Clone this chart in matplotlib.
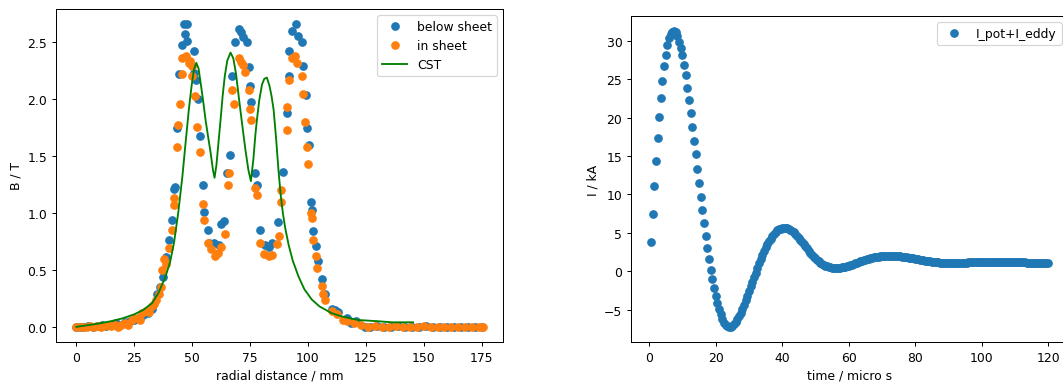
import numpy as np
import matplotlib
matplotlib.use("Agg")
import matplotlib.pyplot as plt

# ---------------- left panel data ----------------
x_below = [0, 1.5, 3, 5, 7, 9, 11, 13, 15, 17, 19, 21, 23, 25, 27, 29, 31,
           32.8, 34.9, 36.2, 37.6, 38.9, 40.0, 41.5, 42.2, 42.5, 43.6, 44.3,
           45.5, 46.3, 47.8, 47.0, 48.0, 50.8, 50.8, 51.5, 52.6, 53.2, 54.7,
           55.1, 56.8, 57.5, 59.6, 61.8, 62.5, 63.7, 65.1, 66.3, 67.3, 68.7,
           70.1, 71.3, 72.2, 73.7, 74.7, 75.2, 75.6, 77.3, 78.0, 79.5, 81.6,
           83.0, 84.5, 87.1, 89.1, 91.0, 91.7, 92.0, 93.0, 94.7, 95.8, 97.4,
           98.1, 99.1, 99.5, 100.6, 101.3, 101.7, 102.4, 103.4, 104.2, 106.0,
           107.4, 110.5, 111.7, 113.0, 117.0, 118.8, 121.0, 124.5, 127, 130,
           133, 136, 139, 142, 145, 148, 151, 154, 157, 160, 163, 166, 169,
           172, 175]
B_below = [0.0, 0.0, 0.0, 0.01, 0.0, 0.01, 0.02, 0.01, 0.02, 0.03, 0.02, 0.04,
           0.05, 0.06, 0.08, 0.10, 0.12, 0.16, 0.29, 0.35, 0.44, 0.61, 0.76,
           0.94, 1.21, 1.23, 1.75, 2.22, 2.48, 2.66, 2.66, 2.57, 2.51, 2.42,
           2.23, 2.17, 2.00, 1.68, 1.25, 1.01, 0.85, 0.74, 0.74, 0.72, 0.90,
           0.93, 1.35, 1.51, 2.20, 2.50, 2.62, 2.59, 2.55, 2.50, 2.28, 2.12,
           1.98, 1.35, 1.25, 0.85, 0.72, 0.70, 0.74, 0.92, 1.36, 1.88, 2.20,
           2.42, 2.60, 2.66, 2.56, 2.50, 2.29, 2.04, 1.75, 1.60, 1.10, 1.03,
           0.84, 0.71, 0.58, 0.42, 0.29, 0.16, 0.15, 0.13, 0.08, 0.03, 0.055,
           0.0, 0.0, 0.01, 0.0, 0.0, 0.01, 0.0, 0.0, 0.0, 0.01, 0.0, 0.0, 0.0,
           0.0, 0.0, 0.0, 0.0, 0.0]

x_in = [0, 1.5, 3, 4.5, 6, 7.5, 9, 10.5, 12, 13.5, 15, 16.5, 18, 19.5, 21,
        22.5, 24, 25.5, 27.3, 28.5, 30, 31.3, 32.5, 33.5, 34.5, 35.6, 36.5,
        37.0, 38.0, 38.8, 40.0, 41.2, 42.2, 42.3, 43.6, 44.1, 44.6, 45.5,
        45.8, 47.2, 48.6, 49.2, 50.0, 50.0, 51.2, 52.3, 53.2, 54.7, 55.1,
        57.0, 58.0, 59.8, 61.2, 62.6, 64.0, 65.5, 66.1, 67.3, 68.0, 70.1,
        71.3, 72.2, 72.9, 74.4, 75.2, 75.6, 77.3, 78.0, 79.5, 81.0, 83.0,
        84.5, 86.5, 87.5, 88.2, 88.4, 91.0, 91.0, 91.7, 93.0, 94.4, 95.5,
        97.3, 98.1, 98.8, 99.5, 100.0, 101.4, 101.7, 102.4, 103.4, 103.8,
        106.0, 106.7, 107.4, 110.3, 112.4, 115, 117, 120, 123, 126, 129, 132,
        135, 138, 141, 144, 147, 150, 153, 156, 159, 162, 165, 168, 171, 174,
        175.5]
B_in = [0.0, 0.0, 0.0, 0.0, 0.01, 0.0, 0.01, 0.0, 0.01, 0.02, 0.01, 0.02, 0.0,
        0.02, 0.03, 0.02, 0.06, 0.08, 0.06, 0.12, 0.14, 0.13, 0.18, 0.20,
        0.24, 0.29, 0.35, 0.50, 0.60, 0.55, 0.69, 0.85, 1.07, 1.13, 1.58,
        1.77, 1.96, 2.22, 2.36, 2.38, 2.32, 2.34, 2.29, 2.20, 2.03, 1.76,
        1.54, 1.08, 0.94, 0.74, 0.68, 0.62, 0.65, 0.70, 0.82, 1.25, 1.35,
        2.08, 1.96, 2.36, 2.33, 2.30, 2.24, 2.08, 1.91, 1.82, 1.22, 1.16,
        0.74, 0.64, 0.62, 0.63, 0.73, 0.80, 1.10, 1.20, 1.93, 1.73, 2.17,
        2.36, 2.38, 2.32, 2.20, 2.05, 1.80, 1.58, 1.43, 1.00, 0.96, 0.76,
        0.62, 0.52, 0.36, 0.29, 0.24, 0.14, 0.11, 0.06, 0.05, 0.03, 0.02,
        0.0, 0.01, 0.0, 0.0, 0.01, 0.0, 0.0, 0.0, 0.01, 0.0, 0.0, 0.0, 0.0,
        0.0, 0.0, 0.0, 0.0, 0.0]

x_cst = [0, 5, 10, 15, 20, 25, 29, 32.8, 35.5, 38.5, 40.5, 42.2, 44.0, 45.8,
         47.2, 48.6, 49.8, 50.8, 51.8, 52.8, 54.0, 55.0, 55.8, 57.0, 58.0,
         59.0, 59.7, 60.5, 61.4, 62.3, 63.2, 64.1, 65.2, 66.6, 67.8, 69.0,
         70.1, 71.5, 73.0, 74.3, 75.4, 76.5, 77.3, 78.0, 79.0, 80.2, 81.2,
         82.3, 83.4, 84.3, 85.2, 86.3, 87.3, 88.2, 89.2, 90.2, 91.7, 93.5,
         96.0, 98.5, 101.7, 105, 110.3, 115, 121.8, 130, 136.2, 145.4]
B_cst = [0.0, 0.015, 0.03, 0.05, 0.075, 0.11, 0.15, 0.21, 0.30, 0.44, 0.57,
         0.74, 1.00, 1.32, 1.62, 1.91, 2.12, 2.26, 2.32, 2.27, 2.10, 1.95,
         1.82, 1.66, 1.53, 1.38, 1.31, 1.42, 1.62, 1.82, 2.03, 2.20, 2.34,
         2.41, 2.36, 2.22, 2.03, 1.80, 1.56, 1.38, 1.28, 1.48, 1.68, 1.82,
         1.99, 2.13, 2.18, 2.19, 2.12, 2.03, 1.91, 1.65, 1.38, 1.17, 1.00,
         0.87, 0.72, 0.58, 0.44, 0.33, 0.24, 0.18, 0.12, 0.09, 0.06, 0.05,
         0.04, 0.04]

# ---------------- right panel data ----------------
I_total = [3.8, 7.5, 11.1, 14.4, 17.4, 20.1, 22.6, 24.8, 26.7, 28.2,
           29.4, 30.3, 30.9, 31.2, 31.3, 31.1, 30.6, 29.9, 29.1, 28.1,
           26.9, 25.5, 23.9, 22.3, 20.6, 18.8, 17.0, 15.2, 13.3, 11.5,
           9.7, 8.0, 6.3, 4.6, 3.0, 1.6, 0.2, -1.0, -2.2, -3.2,
           -4.1, -4.9, -5.6, -6.2, -6.7, -7.0, -7.2, -7.3, -7.25, -7.1,
           -6.9, -6.6, -6.25, -5.85, -5.4, -4.9, -4.35, -3.8, -3.2, -2.6,
           -2.0, -1.4, -0.8, -0.2, 0.4, 1.0, 1.55, 2.1, 2.6, 3.1,
           3.5, 3.9, 4.25, 4.55, 4.85, 5.1, 5.3, 5.45, 5.55, 5.62,
           5.65, 5.63, 5.58, 5.50, 5.38, 5.22, 5.04, 4.83, 4.60, 4.35,
           4.08, 3.80, 3.52, 3.23, 2.95, 2.67, 2.40, 2.14, 1.90, 1.67,
           1.46, 1.27, 1.10, 0.95, 0.82, 0.71, 0.62, 0.55, 0.50, 0.46,
           0.44, 0.43, 0.43, 0.44, 0.46, 0.49, 0.53, 0.58, 0.64, 0.71,
           0.78, 0.86, 0.94, 1.02, 1.10, 1.18, 1.26, 1.34, 1.42, 1.49,
           1.56, 1.62, 1.68, 1.73, 1.78, 1.82, 1.86, 1.89, 1.92, 1.94,
           1.96, 1.97, 1.98, 1.98, 1.98, 1.98, 1.97, 1.96, 1.95, 1.93,
           1.91, 1.89, 1.86, 1.83, 1.80, 1.77, 1.74, 1.70, 1.66, 1.62,
           1.58, 1.54, 1.50, 1.46, 1.42, 1.38, 1.34, 1.30, 1.27, 1.24,
           1.21, 1.18, 1.16, 1.14, 1.12, 1.10, 1.09, 1.08, 1.07, 1.06,
           1.06, 1.06, 1.06, 1.06, 1.07, 1.07, 1.08, 1.09, 1.10, 1.11,
           1.12, 1.13, 1.14, 1.15, 1.16, 1.17, 1.18, 1.19, 1.19, 1.20,
           1.20, 1.21, 1.21, 1.21, 1.21, 1.21, 1.21, 1.21, 1.20, 1.20,
           1.20, 1.19, 1.19, 1.19, 1.18, 1.18, 1.17, 1.17, 1.16, 1.16,
           1.15, 1.15, 1.14, 1.14, 1.13, 1.13, 1.12, 1.12, 1.12, 1.11,
           1.11, 1.11, 1.11, 1.10, 1.10, 1.10, 1.10, 1.10, 1.10, 1.10]
time_step = 0.5
time_us = time_step * (np.arange(len(I_total)) + 1)

W, H = 1063, 383
DPI = 89
fig = plt.figure(figsize=(W / DPI, H / DPI), dpi=DPI)

ax1 = fig.add_axes([56 / W, 40 / H, 447 / W, 333 / H])
ax1.plot(x_below, B_below, 'o', label='below sheet')
ax1.plot(x_in, B_in, 'o', label='in sheet')
ax1.plot(x_cst, B_cst, '-', color='green', label='CST')
ax1.set_xlabel('radial distance / mm')
ax1.set_ylabel('B / T')
ax1.set_xticks([0, 25, 50, 75, 100, 125, 150, 175])
ax1.legend(loc='upper right')

ax2 = fig.add_axes([631 / W, 40 / H, 437 / W, 326 / H])
ax2.plot(time_us, I_total, 'o', label='I_pot+I_eddy')
ax2.set_xlabel('time / micro s')
ax2.set_ylabel('I / kA')
ax2.set_xticks([0, 20, 40, 60, 80, 100, 120])
ax2.legend(loc='upper right')

fig.savefig('out.png', dpi=DPI)
